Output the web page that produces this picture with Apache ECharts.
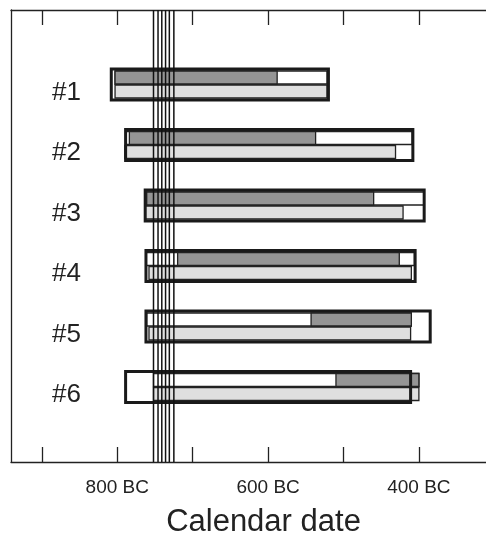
<!DOCTYPE html>
<html>
<head>
<meta charset="utf-8">
<script src="https://cdn.jsdelivr.net/npm/echarts@6/dist/echarts.min.js"></script>
<style>
html,body{margin:0;padding:0;background:#fff;}
#main{width:486px;height:540px;}
</style>
</head>
<body>
<div id="main"></div>
<script>
// ---- data (years BC) ----
const categories = ['#1', '#2', '#3', '#4', '#5', '#6'];
const outerStart = [808, 789, 763, 762, 762, 789];
const outerEnd   = [520, 408, 393, 405, 385, 411];
const boxStart   = [803, 788, 763, 762, 761, 752];
const boxEnd     = [522, 409, 393, 406, 410, 400];
const darkStart  = [803, 784, 761, 720, 543, 510];
const darkEnd    = [588, 537, 460, 426, 410, 400];
const lightStart = [803, 790, 763, 758, 758, 752];
const lightEnd   = [522, 431, 421, 410, 411, 400];
const markerYears = [752, 746, 741, 736, 731, 725];
const tickYears  = [900, 800, 700, 600, 500, 400];
const labelYears = [800, 600, 400];
const xTitle = 'Calendar date';

const FONT = '"Liberation Sans", Arial, sans-serif';
const rowData = categories.map((c, i) => [i + 1, outerStart[i], outerEnd[i], boxStart[i], boxEnd[i],
  darkStart[i], darkEnd[i], lightStart[i], lightEnd[i]]);

function rectBetween(api, a, b, row, y0, y1) {
  const xa = api.coord([a, row])[0];
  const xb = api.coord([b, row])[0];
  return { x: Math.min(xa, xb), y: y0, width: Math.abs(xb - xa), height: y1 - y0 };
}

function renderRow(params, api) {
  const row = api.value(0);
  const cy = api.coord([api.value(1), row])[1];
  const idx = params.dataIndex;
  const cs = params.coordSys;
  const outer = rectBetween(api, api.value(1), api.value(2), row, cy - 15.5, cy + 15.5);
  const box = rectBetween(api, api.value(3), api.value(4), row, cy - 13.5, cy - 0.5);
  const dark = rectBetween(api, api.value(5), api.value(6), row, cy - 13.5, cy - 0.5);
  const light = rectBetween(api, api.value(7), api.value(8), row, cy + 0.5, cy + 13.5);
  return {
    type: 'group',
    children: [
      { type: 'rect', shape: outer, style: { fill: '#fff', stroke: null } },
      { type: 'rect', shape: box, style: { fill: '#fff', stroke: '#222', lineWidth: 1.3 } },
      { type: 'rect', shape: dark, style: { fill: '#959595', stroke: '#222', lineWidth: 1.3 } },
      { type: 'rect', shape: light, style: { fill: '#dfdfdf', stroke: '#222', lineWidth: 1.3 } },
      { type: 'rect', shape: outer, style: { fill: null, stroke: '#1a1a1a', lineWidth: 3 } },
      { type: 'text', x: cs.x + 41, y: cy + 8,
        style: { text: categories[idx], fill: '#222', font: '26px ' + FONT, textAlign: 'left', textVerticalAlign: 'middle' } }
    ]
  };
}

function renderLine(params, api) {
  const cs = params.coordSys;
  const x = api.coord([api.value(0), 1])[0];
  return {
    type: 'line',
    shape: { x1: x, y1: cs.y, x2: x, y2: cs.y + cs.height },
    style: { stroke: '#111', lineWidth: 1.5 }
  };
}

const chart = echarts.init(document.getElementById('main'), null, { renderer: 'canvas' });
const axisCommon = {
  type: 'value', inverse: true, min: 311, max: 941,
  axisLine: { show: true, onZero: false, lineStyle: { color: '#222', width: 1.3 } },
  axisTick: { show: true, inside: true, length: 15, customValues: tickYears, lineStyle: { color: '#222', width: 1.3 } },
  splitLine: { show: false }
};
chart.setOption({
  animation: false,
  backgroundColor: '#fff',
  grid: { left: 11, right: 0, top: 10, bottom: 78, containLabel: false, outerBoundsMode: 'none' },
  xAxis: [
    Object.assign({}, axisCommon, {
      position: 'bottom',
      axisLabel: { show: true, customValues: labelYears, formatter: v => v + ' BC', fontSize: 19, fontFamily: FONT, color: '#222', margin: 16 },
      name: xTitle, nameLocation: 'middle', nameGap: 45,
      nameTextStyle: { fontSize: 31, fontFamily: FONT, color: '#222', padding: [0, 0, 0, 30] }
    }),
    Object.assign({}, axisCommon, { position: 'top', axisLabel: { show: false } })
  ],
  yAxis: {
    type: 'value', inverse: true, min: -0.231, max: 7.24,
    axisLine: { show: true, onZero: false, lineStyle: { color: '#222', width: 1.3 } },
    axisTick: { show: false }, axisLabel: { show: false }, splitLine: { show: false }
  },
  series: [
    { type: 'custom', renderItem: renderRow, data: rowData, z: 2,
      encode: { x: [1, 2, 3, 4, 5, 6, 7, 8], y: 0 }, clip: false },
    { type: 'custom', renderItem: renderLine, data: markerYears.map(v => [v]), z: 3,
      encode: { x: 0 } }
  ]
});
</script>
</body>
</html>
